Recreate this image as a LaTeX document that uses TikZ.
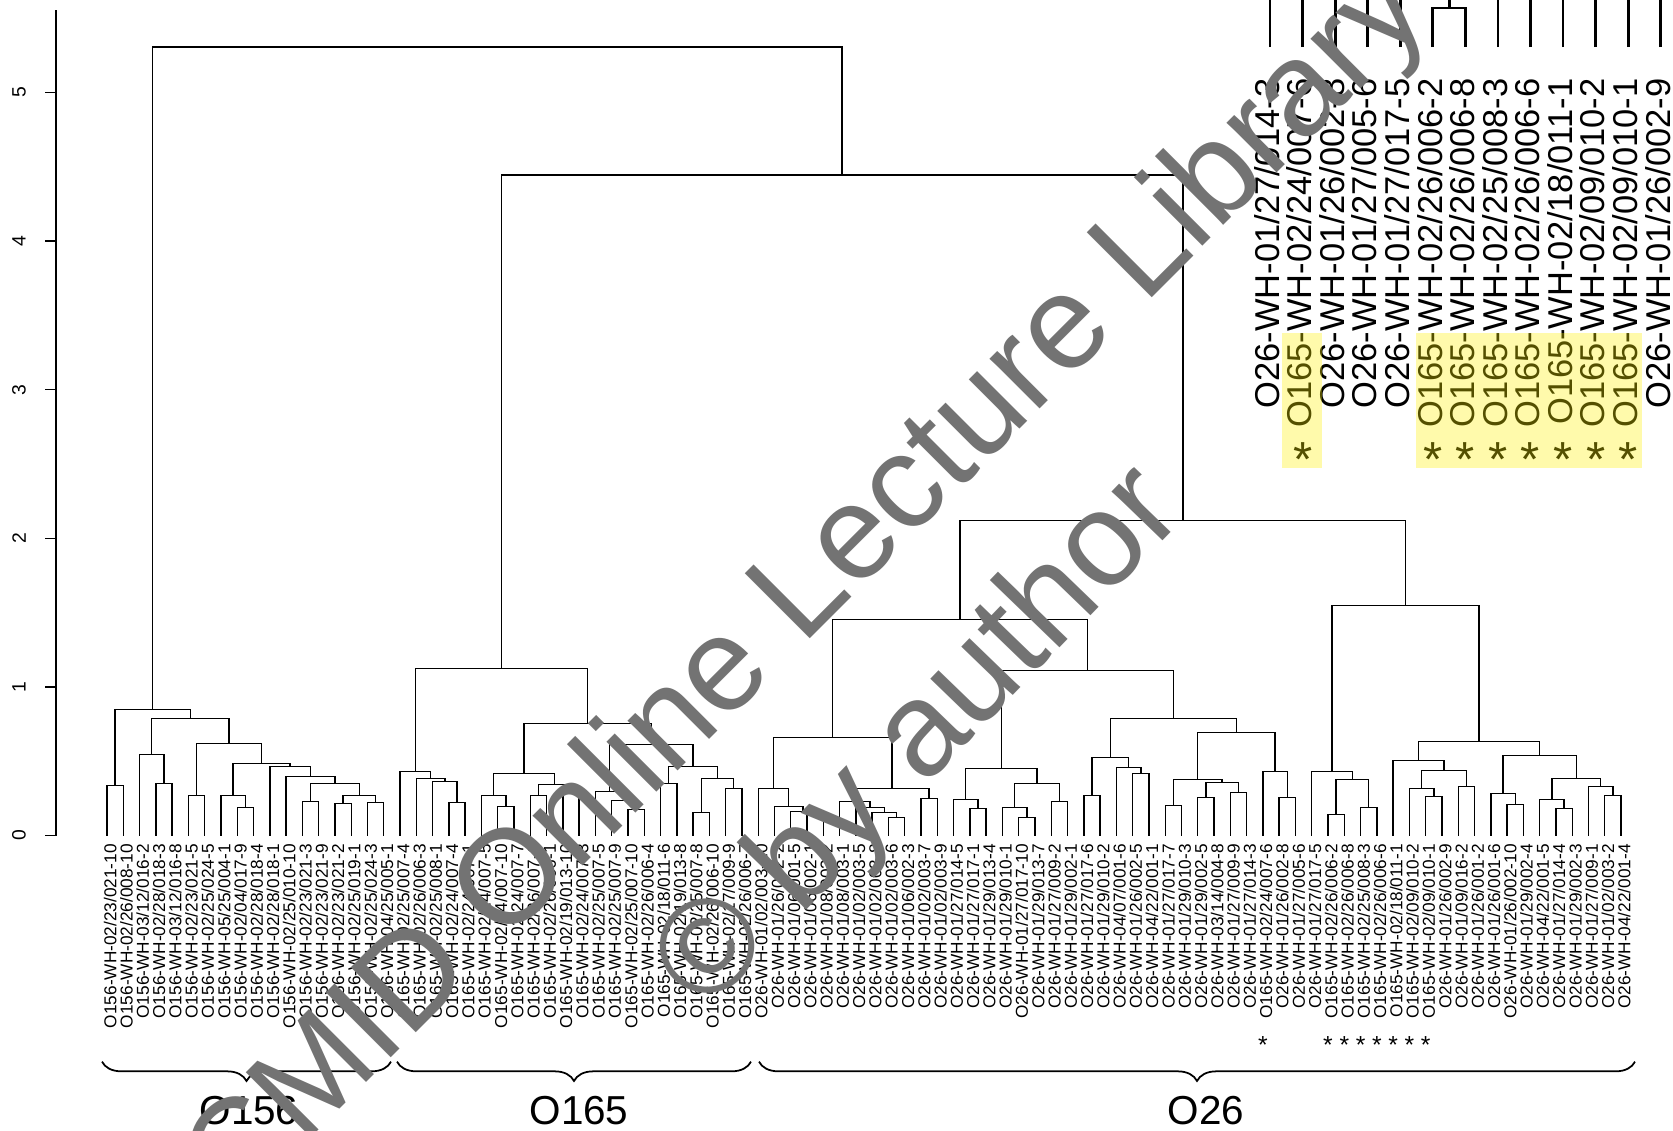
\documentclass[tikz,border=0pt]{standalone}
\usepackage{fontspec}
\setmainfont{Liberation Sans}
\usetikzlibrary{calc,decorations.pathreplacing}

% join two clusters #2 and #3 at height #4, new cluster #1
\newcommand\merge[4]{%
  \coordinate (#1m) at ($(#2)!0.5!(#3)$);
  \coordinate (#1) at (#1m |- 0,#4);
  \draw[tree] (#2) |- (#1) -| (#3);
}

\tikzset{
  tree/.style={line width=0.4pt},
  leaflab/.style={rotate=90,anchor=mid east,inner sep=0pt,font=\fontsize{4.9}{5}\selectfont},
  zoomlab/.style={rotate=90,anchor=mid east,inner sep=0pt,font=\fontsize{9.8}{10}\selectfont},
  zoomline/.style={line width=0.8pt},
  grpbrace/.style={decorate,decoration={brace,amplitude=5.5pt},line width=0.5pt},
  grplab/.style={font=\fontsize{11.5}{12}\selectfont},
  wmark/.style={text=black!55,font=\fontsize{38}{40}\selectfont,inner sep=0pt}
}

\begin{document}
\begin{tikzpicture}[x=0.01cm,y=1.485cm]
\useasboundingbox (0,-1.987) rectangle (1673,5.623);

% axis
\draw[tree] (56,0) -- (56,5.556);
\foreach \k in {0,...,5} {
  \draw[tree] (56,\k) -- (45,\k);
  \node[rotate=90,font=\fontsize{5.5}{6}\selectfont] at (19,\k) {\k};
}

% leaves
\foreach \lab [count=\i] in {
O156-WH-02/23/021-10,O156-WH-02/26/008-10,O156-WH-03/12/016-2,O156-WH-02/28/018-3,
O156-WH-03/12/016-8,O156-WH-02/23/021-5,O156-WH-02/25/024-5,O156-WH-05/25/004-1,
O156-WH-02/04/017-9,O156-WH-02/28/018-4,O156-WH-02/28/018-1,O156-WH-02/25/010-10,
O156-WH-02/23/021-3,O156-WH-02/23/021-9,O156-WH-02/23/021-2,O156-WH-02/25/019-1,
O156-WH-02/25/024-3,O156-WH-04/25/005-1,
O165-WH-02/25/007-4,O165-WH-02/26/006-3,O165-WH-02/25/008-1,O165-WH-02/24/007-4,
O165-WH-02/24/007-1,O165-WH-02/24/007-5,O165-WH-02/24/007-10,O165-WH-02/24/007-7,
O165-WH-02/26/007-6,O165-WH-02/26/006-1,O165-WH-02/19/013-10,O165-WH-02/24/007-3,
O165-WH-02/25/007-5,O165-WH-02/25/007-9,O165-WH-02/25/007-10,O165-WH-02/26/006-4,
O165-WH-02/18/011-6,O165-WH-02/19/013-8,O165-WH-02/25/007-8,O165-WH-02/26/006-10,
O165-WH-02/17/009-9,O165-WH-02/26/006-7,
O26-WH-01/02/003-10,O26-WH-01/26/002-2,O26-WH-01/06/001-5,O26-WH-01/06/002-1,
O26-WH-01/08/003-2,O26-WH-01/08/003-1,O26-WH-01/02/003-5,O26-WH-01/02/003-8,
O26-WH-01/02/003-6,O26-WH-01/06/002-3,O26-WH-01/02/003-7,O26-WH-01/02/003-9,
O26-WH-01/27/014-5,O26-WH-01/27/017-1,O26-WH-01/29/013-4,O26-WH-01/29/010-1,
O26-WH-01/27/017-10,O26-WH-01/29/013-7,O26-WH-01/27/009-2,O26-WH-01/29/002-1,
O26-WH-01/27/017-6,O26-WH-01/29/010-2,O26-WH-04/07/001-6,O26-WH-01/26/002-5,
O26-WH-04/22/001-1,O26-WH-01/27/017-7,O26-WH-01/29/010-3,O26-WH-01/29/002-5,
O26-WH-03/14/004-8,O26-WH-01/27/009-9,O26-WH-01/27/014-3,O165-WH-02/24/007-6,
O26-WH-01/26/002-8,O26-WH-01/27/005-6,O26-WH-01/27/017-5,O165-WH-02/26/006-2,
O165-WH-02/26/006-8,O165-WH-02/25/008-3,O165-WH-02/26/006-6,O165-WH-02/18/011-1,
O165-WH-02/09/010-2,O165-WH-02/09/010-1,O26-WH-01/26/002-9,O26-WH-01/09/016-2,
O26-WH-01/26/001-2,O26-WH-01/26/001-6,O26-WH-01/26/002-10,O26-WH-01/29/002-4,
O26-WH-04/22/001-5,O26-WH-01/27/014-4,O26-WH-01/29/002-3,O26-WH-01/27/009-1,
O26-WH-01/02/003-2,O26-WH-04/22/001-4} {
  \coordinate (l\i) at ({107+16.28*(\i-1)},0);
  \node[leaflab] (t\i) at ({107+16.28*(\i-1)},-0.054) {\lab};
}

% O156
\merge{p1}{l1}{l2}{0.337}
\merge{p2}{l4}{l5}{0.350}
\merge{p3}{l3}{p2}{0.545}
\merge{p4}{l6}{l7}{0.269}
\merge{p5}{l9}{l10}{0.189}
\merge{p6}{l8}{p5}{0.269}
\merge{p7}{l13}{l14}{0.229}
\merge{p8}{l15}{l16}{0.215}
\merge{p9}{l17}{l18}{0.222}
\merge{p10}{p8}{p9}{0.269}
\merge{p11}{p7}{p10}{0.350}
\merge{p12}{l12}{p11}{0.397}
\merge{p13}{l11}{p12}{0.465}
\merge{p14}{p6}{p13}{0.485}
\merge{p15}{p4}{p14}{0.620}
\merge{p16}{p3}{p15}{0.788}
\merge{g156}{p1}{p16}{0.848}

% O165
\merge{q1}{l22}{l23}{0.222}
\merge{q2}{l21}{q1}{0.364}
\merge{q3}{l20}{q2}{0.384}
\merge{q4}{l19}{q3}{0.431}
\merge{q5}{l25}{l26}{0.195}
\merge{q6}{l24}{q5}{0.269}
\merge{q7}{l27}{l28}{0.269}
\merge{q8}{l29}{l30}{0.290}
\merge{q9}{q7}{q8}{0.343}
\merge{q10}{q6}{q9}{0.418}
\merge{q11}{l33}{l34}{0.175}
\merge{q12}{l32}{q11}{0.236}
\merge{q13}{l31}{q12}{0.296}
\merge{q14}{l35}{l36}{0.350}
\merge{q15}{l37}{l38}{0.155}
\merge{q16}{l39}{l40}{0.316}
\merge{q17}{q15}{q16}{0.384}
\merge{q18}{q14}{q17}{0.465}
\merge{q19}{q13}{q18}{0.613}
\merge{q20}{q10}{q19}{0.754}
\merge{g165}{q4}{q20}{1.125}

% O26
\merge{r1}{l44}{l45}{0.135}
\merge{r2}{l43}{r1}{0.162}
\merge{r3}{l42}{r2}{0.195}
\merge{r4}{l41}{r3}{0.316}
\merge{r5}{l49}{l50}{0.121}
\merge{r6}{l48}{r5}{0.155}
\merge{r7}{l47}{r6}{0.189}
\merge{r8}{l46}{r7}{0.229}
\merge{r9}{l51}{l52}{0.249}
\merge{r10}{r8}{r9}{0.316}
\merge{r11}{r4}{r10}{0.660}
\merge{r12}{l54}{l55}{0.182}
\merge{r13}{l53}{r12}{0.242}
\merge{r14}{l57}{l58}{0.121}
\merge{r15}{l56}{r14}{0.189}
\merge{r16}{l59}{l60}{0.229}
\merge{r17}{r15}{r16}{0.350}
\merge{r18}{r13}{r17}{0.451}
\merge{r19}{l61}{l62}{0.269}
\merge{r20}{l64}{l65}{0.418}
\merge{r21}{l63}{r20}{0.458}
\merge{r22}{r19}{r21}{0.525}
\merge{r23}{l66}{l67}{0.202}
\merge{r24}{l68}{l69}{0.256}
\merge{r25}{l70}{l71}{0.290}
\merge{r26}{r24}{r25}{0.357}
\merge{r27}{r23}{r26}{0.377}
\merge{r28}{l73}{l74}{0.256}
\merge{r29}{l72}{r28}{0.431}
\merge{r30}{r27}{r29}{0.694}
\merge{r31}{r22}{r30}{0.788}
\merge{r32}{r18}{r31}{1.111}
\merge{r33}{r11}{r32}{1.455}
\merge{s1}{l76}{l77}{0.141}
\merge{s2}{l78}{l79}{0.189}
\merge{s3}{s1}{s2}{0.377}
\merge{s4}{l75}{s3}{0.431}
\merge{s5}{l82}{l83}{0.263}
\merge{s6}{l81}{s5}{0.316}
\merge{s7}{l84}{l85}{0.330}
\merge{s8}{s6}{s7}{0.438}
\merge{s9}{l80}{s8}{0.505}
\merge{s10}{l87}{l88}{0.209}
\merge{s11}{l86}{s10}{0.283}
\merge{s12}{l90}{l91}{0.182}
\merge{s13}{l89}{s12}{0.242}
\merge{s14}{l93}{l94}{0.269}
\merge{s15}{l92}{s14}{0.330}
\merge{s16}{s13}{s15}{0.384}
\merge{s17}{s11}{s16}{0.539}
\merge{s18}{s9}{s17}{0.633}
\merge{s19}{s4}{s18}{1.549}
\merge{g26}{r33}{s19}{2.121}

% top joins
\merge{g2}{g165}{g26}{4.444}
\merge{root}{g156}{g2}{5.306}

% stars under the O165 strains inside O26
\foreach \i in {72,76,77,78,79,80,81,82}
  \node[font=\fontsize{7}{7}\selectfont,inner sep=0pt] at (l\i |- 0,-1.41) {*};

% group braces
\coordinate (b156a) at (391,-1.522); \coordinate (b156b) at (102,-1.522);
\coordinate (b165a) at (751,-1.522); \coordinate (b165b) at (397,-1.522);
\coordinate (b26a) at (1635,-1.522); \coordinate (b26b) at (759,-1.522);
\draw[grpbrace] (b156a) -- (b156b);
\draw[grpbrace] (b165a) -- (b165b);
\draw[grpbrace] (b26a) -- (b26b);
\node[grplab] (n156) at (249,-1.85) {O156};
\node[grplab] (n165) at (579,-1.85) {O165};
\node[grplab] (n26) at (1206,-1.85) {O26};

% magnified inset
\fill[white] (1250,2.42) rectangle (1673,5.7);
\foreach \lab [count=\j from 0] in {
O26-WH-01/27/014-3,O165-WH-02/24/007-6,O26-WH-01/26/002-8,O26-WH-01/27/005-6,
O26-WH-01/27/017-5,O165-WH-02/26/006-2,O165-WH-02/26/006-8,O165-WH-02/25/008-3,
O165-WH-02/26/006-6,O165-WH-02/18/011-1,O165-WH-02/09/010-2,O165-WH-02/09/010-1,
O26-WH-01/26/002-9} {
  \coordinate (z\j) at ({1270+32.56*\j},5.306);
  \node[zoomlab] (zt\j) at ({1270+32.56*\j},5.098) {\lab};
}
\foreach \j in {0,1,2,3,4,7,8,9,10,11,12}
  \draw[zoomline] (z\j) -- (z\j |- 0,5.7);
\coordinate (zbm) at ($(z5)!0.5!(z6)$);
\coordinate (zb) at (zbm |- 0,5.569);
\draw[zoomline] (z5) |- (zb) -| (z6);
\draw[zoomline] (zb) -- (zb |- 0,5.7);
\foreach \j in {1,5,6,7,8,9,10,11}
  \node[font=\fontsize{14}{14}\selectfont,inner sep=0pt] at (z\j |- 0,2.53) {*};
\fill[yellow,opacity=0.33] (1282,3.380) rectangle (1322,2.471);
\fill[yellow,opacity=0.33] (1416,3.380) rectangle (1642,2.471);

% watermark
\node[wmark,rotate=45] (wm1) at (810,1.65) {CMID Online Lecture Library};
\node[wmark,rotate=46] (wm2) at (922,0.64) {© by author};
\end{tikzpicture}
\end{document}
